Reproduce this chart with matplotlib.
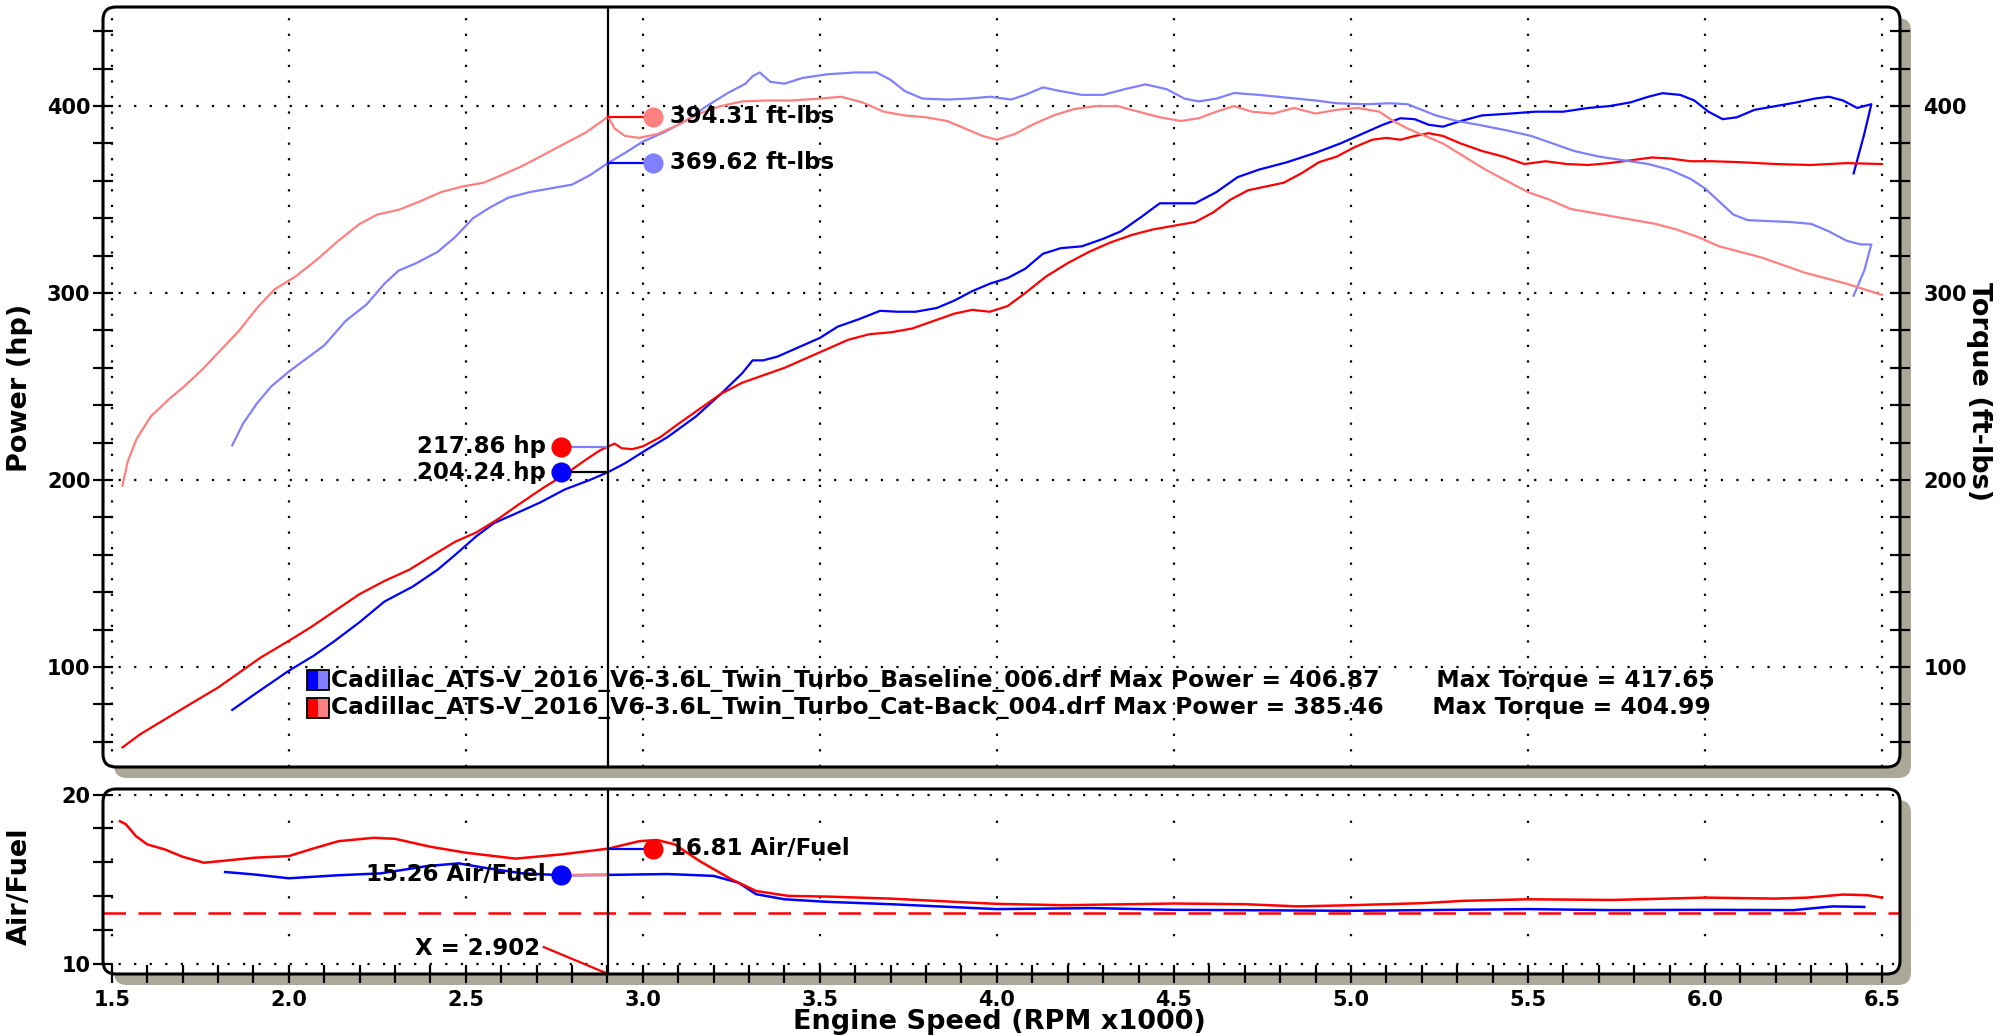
import matplotlib
matplotlib.use('Agg')
import matplotlib.pyplot as plt
import numpy as np
from matplotlib.patches import FancyBboxPatch, Rectangle
from matplotlib.transforms import IdentityTransform
from matplotlib.ticker import MultipleLocator, FormatStrFormatter

plt.rcParams['font.family'] = ['DejaVu Sans']
plt.rcParams['font.weight'] = 'bold'

# ---- data (rpm x1000) ----
base_power_rpm = [1.84, 1.90, 2.00, 2.07, 2.13, 2.20, 2.27, 2.35, 2.42, 2.47, 2.53, 2.58, 2.64, 2.71,
                  2.78, 2.85, 2.902, 2.95, 3.00, 3.07, 3.15, 3.22, 3.28, 3.31, 3.34, 3.38, 3.44, 3.50,
                  3.55, 3.61, 3.67, 3.72, 3.77, 3.83, 3.88, 3.93, 3.98, 4.03, 4.08, 4.13, 4.18, 4.24,
                  4.30, 4.35, 4.41, 4.46, 4.51, 4.56, 4.62, 4.68, 4.74, 4.82, 4.90, 4.97, 5.03, 5.09,
                  5.14, 5.18, 5.22, 5.26, 5.31, 5.37, 5.45, 5.52, 5.60, 5.67, 5.73, 5.79, 5.84, 5.88,
                  5.93, 5.97, 6.01, 6.05, 6.09, 6.14, 6.20, 6.26, 6.31, 6.35, 6.39, 6.43, 6.47, 6.45, 6.42]
base_power_hp = [77, 85, 98, 106, 114, 124, 135, 143, 152, 160, 170, 177, 182, 188,
                 195, 200, 204.24, 209, 215, 223, 234, 246, 257, 264, 264, 266, 271, 276,
                 282, 286, 290.5, 290, 290, 292, 296, 301, 305, 308, 313, 321, 324, 325,
                 329, 333, 341, 348, 348, 348, 354, 362, 366, 370, 375, 380, 385, 390,
                 393.5, 393, 390, 389, 392, 395, 396, 397, 397, 399, 400, 402, 405, 406.9,
                 406, 403, 397, 393, 394, 398, 400, 402, 404, 405, 403, 399, 401, 385, 364]

cat_power_rpm = [1.53, 1.58, 1.65, 1.72, 1.80, 1.86, 1.92, 2.00, 2.06, 2.13, 2.20, 2.27, 2.34, 2.40,
                 2.47, 2.53, 2.59, 2.65, 2.72, 2.78, 2.84, 2.88, 2.902, 2.92, 2.94, 2.97, 3.00, 3.05,
                 3.10, 3.16, 3.22, 3.28, 3.34, 3.40, 3.46, 3.52, 3.58, 3.64, 3.70, 3.76, 3.82, 3.88,
                 3.93, 3.98, 4.03, 4.08, 4.14, 4.20, 4.26, 4.32, 4.38, 4.44, 4.50, 4.56, 4.61, 4.66,
                 4.71, 4.76, 4.81, 4.86, 4.91, 4.96, 5.01, 5.06, 5.10, 5.14, 5.18, 5.22, 5.26, 5.31,
                 5.37, 5.43, 5.49, 5.55, 5.61, 5.67, 5.73, 5.79, 5.85, 5.90, 5.96, 6.02, 6.10, 6.20,
                 6.30, 6.40, 6.50]
cat_power_hp = [57, 64, 72, 80, 89, 97, 105, 114, 121, 130, 139, 146, 152, 159,
                167, 172, 179, 187, 196, 203, 211, 216, 217.86, 219.5, 217, 216.5, 218, 223,
                230, 238, 246, 252, 256, 260, 265, 270, 275, 278, 279, 281, 285, 289,
                291, 290, 293, 300, 309, 316, 322, 327, 331, 334, 336, 338, 343, 350,
                355, 357, 359, 364, 370, 373, 378, 382, 383, 382, 384, 385.5, 384, 380,
                376, 373, 369, 370.5, 369, 368.5, 369.5, 371, 372.5, 372, 370.5, 370.5, 370, 369,
                368.5, 369.5, 369]

base_torque_rpm = [1.84, 1.87, 1.91, 1.95, 2.00, 2.05, 2.10, 2.16, 2.22, 2.27, 2.31, 2.36, 2.42, 2.47,
                   2.52, 2.57, 2.62, 2.68, 2.74, 2.80, 2.85, 2.902, 2.95, 3.00, 3.06, 3.12, 3.18, 3.24,
                   3.29, 3.31, 3.33, 3.36, 3.40, 3.45, 3.52, 3.60, 3.66, 3.70, 3.74, 3.79, 3.86, 3.92,
                   3.98, 4.04, 4.08, 4.13, 4.18, 4.24, 4.30, 4.36, 4.42, 4.48, 4.53, 4.57, 4.62, 4.67,
                   4.74, 4.82, 4.90, 4.96, 5.04, 5.11, 5.16, 5.20, 5.24, 5.30, 5.36, 5.44, 5.51, 5.57,
                   5.63, 5.70, 5.77, 5.84, 5.90, 5.96, 6.00, 6.04, 6.08, 6.12, 6.18, 6.24, 6.30, 6.35,
                   6.40, 6.44, 6.47, 6.45, 6.42]
base_torque_lbft = [218.5, 230, 241, 250, 258, 265, 272, 285, 294, 305, 312, 316, 322, 330,
                    340, 346, 351, 354, 356, 358, 363, 369.62, 375, 381, 386, 392, 400, 407,
                    412, 416, 418, 413, 412, 415, 417, 418, 418, 414, 408, 404, 403.5, 404,
                    405, 403.5, 406, 410, 408, 406, 406, 409, 411.6, 409, 404, 402.5, 404, 407,
                    406, 404.5, 403, 401.5, 401, 401.5, 401, 398, 395, 392, 390, 387, 384, 380,
                    376, 373, 371, 369, 366, 361, 356, 349, 342, 339, 338.5, 338, 337, 333,
                    328, 326, 326, 312, 298.6]

cat_torque_rpm = [1.53, 1.545, 1.57, 1.61, 1.66, 1.71, 1.76, 1.81, 1.86, 1.91, 1.96, 2.02, 2.08, 2.14,
                  2.20, 2.25, 2.31, 2.37, 2.43, 2.49, 2.55, 2.60, 2.66, 2.72, 2.78, 2.84, 2.902, 2.92,
                  2.95, 2.99, 3.04, 3.10, 3.16, 3.22, 3.28, 3.35, 3.42, 3.50, 3.56, 3.62, 3.68, 3.74,
                  3.80, 3.86, 3.91, 3.96, 4.00, 4.05, 4.10, 4.16, 4.22, 4.28, 4.34, 4.40, 4.46, 4.52,
                  4.57, 4.62, 4.67, 4.72, 4.78, 4.84, 4.90, 4.96, 5.02, 5.08, 5.12, 5.16, 5.21, 5.26,
                  5.32, 5.38, 5.44, 5.50, 5.56, 5.62, 5.68, 5.74, 5.80, 5.86, 5.92, 5.98, 6.04, 6.10,
                  6.16, 6.22, 6.28, 6.34, 6.40, 6.45, 6.50]
cat_torque_lbft = [197, 210, 222, 234, 243, 251, 260, 270, 280, 292, 302, 309, 318, 328,
                   337, 342, 344.5, 349, 354, 357, 359, 363, 368, 374, 380, 386, 394.31, 388,
                   384, 383, 385, 390, 396, 400, 402.5, 403, 403, 404, 405, 402, 397, 395,
                   394, 392, 388, 384, 382, 385, 390, 395, 398.5, 400, 400, 397, 394, 392,
                   393.5, 397, 400, 397, 396, 399, 396, 398, 399, 397, 392, 388, 384, 380,
                   373, 366, 360, 354, 350, 345, 343, 341, 339, 337, 334, 330, 325, 322,
                   319, 315, 311, 308, 305, 302, 299]

base_afr_rpm = [1.82, 1.90, 2.00, 2.14, 2.26, 2.39, 2.48, 2.55, 2.66, 2.77, 2.902, 3.07, 3.20, 3.27,
                3.32, 3.40, 3.52, 3.70, 4.00, 4.27, 4.50, 5.00, 5.50, 5.74, 6.00, 6.25, 6.36, 6.45]
base_afr = [15.43, 15.29, 15.06, 15.24, 15.35, 15.78, 15.94, 15.69, 15.35, 15.24, 15.26, 15.31, 15.20, 14.80,
            14.12, 13.82, 13.67, 13.53, 13.24, 13.30, 13.20, 13.14, 13.24, 13.18, 13.20, 13.18, 13.40, 13.37]

cat_afr_rpm = [1.523, 1.54, 1.568, 1.60, 1.65, 1.70, 1.76, 1.81, 1.90, 2.00, 2.06, 2.14, 2.24, 2.30,
               2.40, 2.50, 2.64, 2.77, 2.902, 2.99, 3.04, 3.09, 3.16, 3.25, 3.32, 3.41, 3.52, 3.70,
               3.88, 4.00, 4.19, 4.50, 4.70, 4.85, 5.00, 5.20, 5.32, 5.50, 5.74, 6.00, 6.20, 6.29,
               6.39, 6.46, 6.50]
cat_afr = [18.43, 18.24, 17.55, 17.06, 16.76, 16.33, 15.98, 16.08, 16.27, 16.37, 16.76, 17.25, 17.45, 17.39,
           16.92, 16.57, 16.22, 16.47, 16.81, 17.25, 17.32, 17.06, 16.08, 15.00, 14.31, 14.02, 13.98, 13.86,
           13.67, 13.55, 13.47, 13.57, 13.53, 13.40, 13.47, 13.59, 13.73, 13.82, 13.78, 13.92, 13.86, 13.92,
           14.10, 14.06, 13.92]

target_afr = 13.0
cursor_rpm = 2.902
cursor_base_hp, cursor_cat_hp = 204.24, 217.86
cursor_base_tq, cursor_cat_tq = 369.62, 394.31
cursor_base_afr, cursor_cat_afr = 15.26, 16.81

legend_lines = [
    'Cadillac_ATS-V_2016_V6-3.6L_Twin_Turbo_Baseline_006.drf Max Power = 406.87       Max Torque = 417.65',
    'Cadillac_ATS-V_2016_V6-3.6L_Twin_Turbo_Cat-Back_004.drf Max Power = 385.46      Max Torque = 404.99',
]

BLUE, LBLUE, RED, LRED = '#0000ff', '#8080ff', '#ff0000', '#ff8080'
SHADOW = '#aca899'

# ---- figure ----
W, H = 2015, 1036
fig = plt.figure(figsize=(W / 100, H / 100), dpi=100)


def rect(x0, y0, x1, y1):
    return [x0 / W, 1 - y1 / H, (x1 - x0) / W, (y1 - y0) / H]


top_px = (103, 7, 1900, 767)
bot_px = (103, 789, 1900, 974)

# rounded frames with drop shadow
for (x0, y0, x1, y1) in (top_px, bot_px):
    for dx, fc, ec, z in ((11, SHADOW, 'none', -3), (0, 'white', 'none', -2), (0, 'none', 'black', 10)):
        p = FancyBboxPatch((x0 + dx, H - y1 - dx), x1 - x0, y1 - y0,
                           boxstyle='round,pad=0,rounding_size=13', transform=IdentityTransform(),
                           fc=fc, ec=ec, lw=2.2, zorder=z)
        fig.add_artist(p)

ax = fig.add_axes(rect(*top_px))
axt = ax.twinx()
axa = fig.add_axes(rect(*bot_px))

xlim = (1.475, 6.551)
for a in (ax, axt, axa):
    a.patch.set_visible(False)
    for s in a.spines.values():
        s.set_visible(False)
    a.set_xlim(*xlim)

ax.set_ylim(46.5, 453)
axt.set_ylim(46.5, 453)
axa.set_ylim(9.41, 20.33)

grid_style = dict(color='black', lw=1.6, ls=(0, (1, 6)))

# power / torque panel
ax.set_xticks(np.arange(1.5, 6.51, 0.5))
ax.tick_params(axis='x', which='both', bottom=False, labelbottom=False)
ax.yaxis.set_major_locator(MultipleLocator(100))
ax.yaxis.set_minor_locator(MultipleLocator(20))
ax.tick_params(axis='y', which='both', direction='inout', length=14, width=1.6, labelsize=15, pad=2)
ax.grid(True, which='major', **grid_style)

axt.yaxis.set_major_locator(MultipleLocator(100))
axt.yaxis.set_minor_locator(MultipleLocator(20))
axt.tick_params(axis='y', which='both', direction='inout', length=14, width=1.6, labelsize=15, pad=10)

ax.plot(base_power_rpm, base_power_hp, color=BLUE, lw=1.6)
ax.plot(cat_power_rpm, cat_power_hp, color=RED, lw=1.6)
axt.plot(base_torque_rpm, base_torque_lbft, color=LBLUE, lw=1.6)
axt.plot(cat_torque_rpm, cat_torque_lbft, color=LRED, lw=1.6)
ax.axvline(cursor_rpm, color='black', lw=1.6, zorder=5)

# cursor readouts
left_dot, right_dot = 2.77, 3.028
fs_ann = 16.5
axt.plot([cursor_rpm, right_dot], [cursor_cat_tq] * 2, color=RED, lw=1.6)
axt.plot(right_dot, cursor_cat_tq, 'o', color=LRED, ms=13.5)
axt.text(right_dot + 0.05, cursor_cat_tq, f'{cursor_cat_tq:.2f} ft-lbs', fontsize=fs_ann, va='center', fontweight='bold')
axt.plot([cursor_rpm, right_dot], [cursor_base_tq] * 2, color=BLUE, lw=1.6)
axt.plot(right_dot, cursor_base_tq, 'o', color=LBLUE, ms=13.5)
axt.text(right_dot + 0.05, cursor_base_tq, f'{cursor_base_tq:.2f} ft-lbs', fontsize=fs_ann, va='center', fontweight='bold')

ax.plot([left_dot, cursor_rpm], [cursor_cat_hp] * 2, color=LBLUE, lw=1.6)
ax.plot(left_dot, cursor_cat_hp, 'o', color=RED, ms=13.5)
ax.text(left_dot - 0.045, cursor_cat_hp, f'{cursor_cat_hp:.2f} hp', fontsize=fs_ann, va='center', ha='right', fontweight='bold')
ax.plot([left_dot, cursor_rpm], [cursor_base_hp] * 2, color='black', lw=1.6)
ax.plot(left_dot, cursor_base_hp, 'o', color=BLUE, ms=13.5)
ax.text(left_dot - 0.045, cursor_base_hp, f'{cursor_base_hp:.2f} hp', fontsize=fs_ann, va='center', ha='right', fontweight='bold')

# legend
for i, (dark, light) in enumerate(((BLUE, LBLUE), (RED, LRED))):
    yc = 93.0 - i * 14.8
    h = 10.5
    ax.add_patch(Rectangle((2.052, yc - h / 2), 0.03, h, fc=dark, ec='none', zorder=6))
    ax.add_patch(Rectangle((2.082, yc - h / 2), 0.03, h, fc=light, ec='none', zorder=6))
    ax.add_patch(Rectangle((2.052, yc - h / 2), 0.06, h, fc='none', ec='black', lw=1.3, zorder=7))
    ax.text(2.12, yc, legend_lines[i], fontsize=16.8, va='center', fontweight='bold', zorder=7)

# air/fuel panel
axa.xaxis.set_major_locator(MultipleLocator(0.5))
axa.xaxis.set_minor_locator(MultipleLocator(0.1))
axa.xaxis.set_major_formatter(FormatStrFormatter('%.1f'))
axa.yaxis.set_major_locator(MultipleLocator(10))
axa.yaxis.set_minor_locator(MultipleLocator(2))
axa.tick_params(axis='x', which='both', direction='inout', length=13, width=1.6, labelsize=15, pad=5)
axa.tick_params(axis='y', which='both', direction='inout', length=14, width=1.6, labelsize=15, pad=2)
axa.grid(True, axis='y', which='major', **grid_style)
axa.grid(True, axis='x', which='major', color='black', lw=1.6, ls=(0, (1, 16)))

axa.axhline(target_afr, color=RED, lw=1.8, ls=(0, (9, 5)))
axa.plot(base_afr_rpm, base_afr, color=BLUE, lw=1.8)
axa.plot(cat_afr_rpm, cat_afr, color=RED, lw=1.8)
axa.axvline(cursor_rpm, color='black', lw=1.6, zorder=5)

axa.plot([cursor_rpm, right_dot], [cursor_cat_afr] * 2, color=BLUE, lw=1.6)
axa.plot(right_dot, cursor_cat_afr, 'o', color=RED, ms=13.5)
axa.text(right_dot + 0.05, cursor_cat_afr, f'{cursor_cat_afr:.2f} Air/Fuel', fontsize=fs_ann, va='center', fontweight='bold')
axa.plot([left_dot, cursor_rpm], [cursor_base_afr] * 2, color=LRED, lw=1.6)
axa.plot(left_dot, cursor_base_afr, 'o', color=BLUE, ms=13.5)
axa.text(left_dot - 0.045, cursor_base_afr, f'{cursor_base_afr:.2f} Air/Fuel', fontsize=fs_ann, va='center', ha='right', fontweight='bold')

axa.plot([2.72, cursor_rpm], [11.0, 9.41], color=RED, lw=1.6, clip_on=False)
axa.text(2.71, 10.9, f'X = {cursor_rpm:.3f}', fontsize=fs_ann, va='center', ha='right', fontweight='bold')

# axis titles
fig.text(20 / W, 1 - 388 / H, 'Power (hp)', rotation=90, fontsize=19.5, fontweight='bold', ha='center', va='center')
fig.text(1979 / W, 1 - 392 / H, 'Torque (ft-lbs)', rotation=-90, fontsize=19.5, fontweight='bold', ha='center', va='center')
fig.text(20 / W, 1 - 886 / H, 'Air/Fuel', rotation=90, fontsize=19.5, fontweight='bold', ha='center', va='center')
fig.text(999 / W, 1 - 1022 / H, 'Engine Speed (RPM x1000)', fontsize=19.5, fontweight='bold', ha='center', va='center')

fig.savefig('out.png', dpi=100)
